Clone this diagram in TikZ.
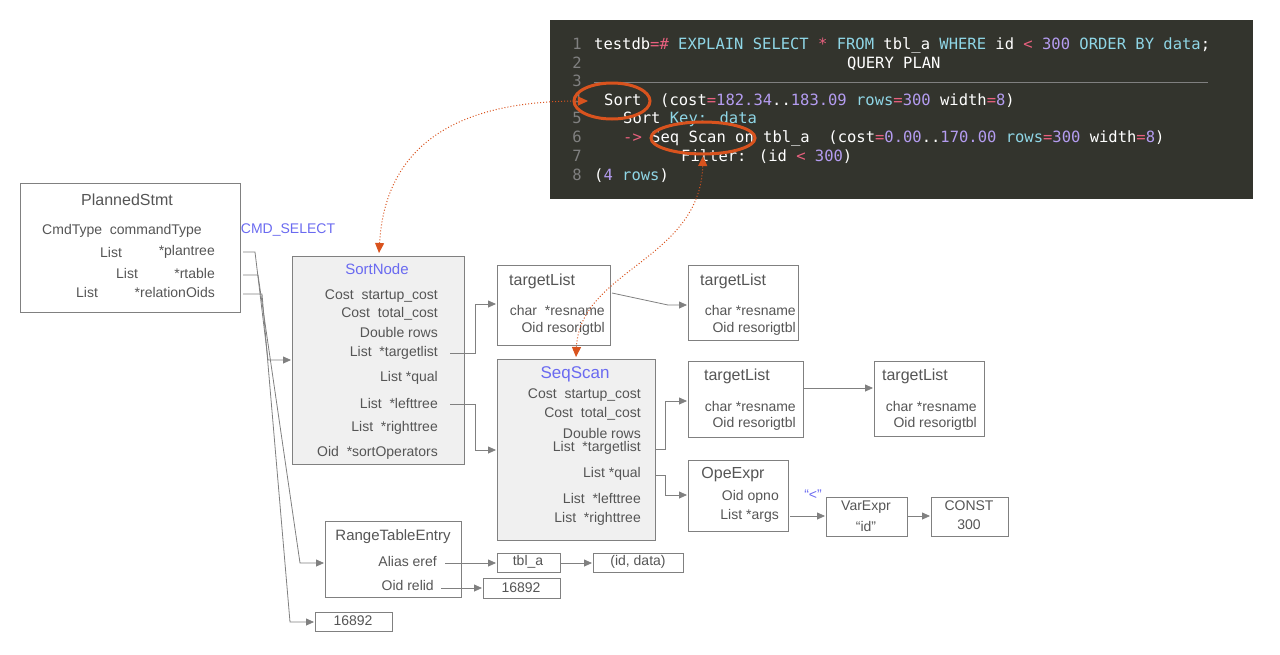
\documentclass[tikz,border=0pt]{standalone}
\usepackage{fontspec}
\setmainfont{Liberation Sans}
\newfontfamily\codefont{DejaVu Sans Mono}
\usetikzlibrary{arrows.meta}
\definecolor{gline}{HTML}{808080}
\definecolor{gtext}{HTML}{555555}
\definecolor{blu}{HTML}{6A6AF0}
\definecolor{term}{HTML}{33342D}
\definecolor{cy}{HTML}{8FD6E6}
\definecolor{pk}{HTML}{E8607E}
\definecolor{pu}{HTML}{B49CF0}
\definecolor{org}{HTML}{D9531E}
\newcommand{\C}[1]{\textcolor{cy}{#1}}
\newcommand{\Pk}[1]{\textcolor{pk}{#1}}
\newcommand{\Pu}[1]{\textcolor{pu}{#1}}
\begin{document}
\begin{tikzpicture}[x=1pt,y=-1pt,
  box/.style={draw=gline,line width=0.8pt},
  fbox/.style={draw=gline,line width=0.8pt,fill=black!6},
  t/.style={inner sep=0pt,text=gtext,font=\fontsize{14}{14}\selectfont},
  tt/.style={t,font=\fontsize{16}{16}\selectfont},
  bt/.style={tt,text=blu},
  code/.style={inner sep=0pt,anchor=west,text=white,font=\codefont\fontsize{15.5}{16}\selectfont,text height=11pt,text depth=3pt},
  num/.style={code,anchor=east,text=gray},
  con/.style={draw=gline,line width=0.8pt,-{Triangle[length=8pt,width=7pt,fill=gline]}},
  dot/.style={draw=org,line width=1pt,dotted,{Triangle[length=10pt,width=9pt,fill=org]}-{Triangle[length=10pt,width=9pt,fill=org]}},
  ell/.style={draw=org,line width=3pt}]
\useasboundingbox (0,0) rectangle (1280,654);
% terminal
\fill[term] (550,20) rectangle (1253,199);
\foreach \n/\y in {1/45,2/64,3/82,4/101,5/119,6/138,7/157,8/176}
  \node[num] (ln\n) at (582,\y) {\n};
\node[code] (c1) at (594,45) {testdb\Pk{=\#} \C{EXPLAIN SELECT} \Pk{*} \C{FROM} tbl\_a \C{WHERE} id \Pk{<} \Pu{300} \C{ORDER BY data};};
\node[code] (c2) at (847,64) {QUERY PLAN};
\draw[gray,line width=1pt] (594,82) -- (1208,82);
\node[code] (c4) at (604,101) {Sort\ \ (cost\Pk{=}\Pu{182.34}..\Pu{183.09} \C{rows}\Pk{=}\Pu{300} width\Pk{=}\Pu{8})};
\node[code] (c5) at (623,119) {Sort \C{Key: data}};
\node[code] (c6) at (623,138) {\Pk{->} Seq Scan on tbl\_a\ \ (cost\Pk{=}\Pu{0.00}..\Pu{170.00} \C{rows}\Pk{=}\Pu{300} width\Pk{=}\Pu{8})};
\node[code] (c7) at (681,157) {Filter: (id \Pk{<} \Pu{300})};
\node[code] (c8) at (594,176) {(\Pu{4} \C{rows})};
\draw[ell] (612,101) ellipse [x radius=38,y radius=18];
\draw[ell] (703,138) ellipse [x radius=52,y radius=16];
\coordinate (sortpt) at (588,101);
\coordinate (seqpt) at (703,156);
% PlannedStmt
\draw[box] (20,183) rectangle (240,312);
\node[tt] (ps) at (127,200) {PlannedStmt};
\node[t] (ps1) at (122,231) {CmdType\ \ commandType};
\node[t,anchor=west] (ps2a) at (100,252) {List};
\node[t,anchor=east] (ps2) at (215,252) {*plantree};
\node[t,anchor=west] (ps3a) at (116,273) {List};
\node[t,anchor=east] (ps3) at (215,273) {*rtable};
\node[t,anchor=west] (ps4a) at (76,292) {List};
\node[t,anchor=east] (ps4) at (215,292) {*relationOids};
\node[t,text=blu] (cmd) at (288,230) {CMD\_SELECT};
% SortNode
\draw[fbox] (292,256) rectangle (464,464);
\node[bt,font=\fontsize{15}{15}\selectfont] (sn) at (377,269) {SortNode};
\foreach \s/\y/\nm in {Cost\ \ startup\_cost/296/a,Cost\ \ total\_cost/314/b,Double\ rows/332/c,List\ \ *targetlist/353/d,List *qual/378/e,List\ \ *lefttree/403/f,List\ \ *righttree/428/g,Oid\ \ *sortOperators/453/h}
  \node[t,anchor=east] (sn\nm) at (438,\y) {\s};
% targetList 1,2
\draw[box] (497,265) rectangle (610,345);
\node[tt,anchor=west] (tl1) at (509,281) {targetList};
\node[t,anchor=east] (tl1a) at (605,310) {char\ \ *resname};
\node[t,anchor=east] (tl1b) at (605,329) {Oid resorigtbl};
\draw[box] (688,265) rectangle (798,340);
\node[tt,anchor=west] (tl2) at (700,281) {targetList};
\node[t,anchor=east] (tl2a) at (796,310) {char *resname};
\node[t,anchor=east] (tl2b) at (796,329) {Oid resorigtbl};
% SeqScan
\draw[fbox] (497,359) rectangle (655,540);
\node[bt,font=\fontsize{17}{17}\selectfont] (ss) at (575,374) {SeqScan};
\foreach \s/\y/\nm in {Cost\ \ startup\_cost/395/a,Cost\ \ total\_cost/414/b,Double rows/433/c,List\ \ *targetlist/448/d,List *qual/474/e,List\ \ *lefttree/498/f,List\ \ *righttree/519/g}
  \node[t,anchor=east] (ss\nm) at (641,\y) {\s};
% targetList 3,4
\draw[box] (688,361) rectangle (803,437);
\node[tt] (tl3) at (737,376) {targetList};
\node[t,anchor=east] (tl3a) at (796,406) {char *resname};
\node[t,anchor=east] (tl3b) at (796,424) {Oid resorigtbl};
\draw[box] (874,361) rectangle (984,436);
\node[tt] (tl4) at (915,376) {targetList};
\node[t,anchor=east] (tl4a) at (977,406) {char *resname};
\node[t,anchor=east] (tl4b) at (977,424) {Oid resorigtbl};
% OpeExpr
\draw[box] (688,460) rectangle (788,531);
\node[tt] (op) at (733,475) {OpeExpr};
\node[t,anchor=east] (opa) at (779,497) {Oid opno};
\node[t,anchor=east] (opb) at (779,516) {List *args};
\node[t,text=blu] (lt) at (813,495) {“<”};
\draw[box] (826,497) rectangle (907,536);
\node[t] (ve) at (866,507) {VarExpr};
\node[t] (vid) at (866,526) {“id”};
\draw[box] (931,497) rectangle (1008,536);
\node[t] (cst) at (969,506) {CONST};
\node[t] (c300) at (969,525) {300};
% RangeTableEntry
\draw[box] (325,521) rectangle (461,597);
\node[t,font=\fontsize{15}{15}\selectfont] (rte) at (393,537) {RangeTableEntry};
\node[t,anchor=east] (rtea) at (437,561) {Alias eref};
\node[t,anchor=east] (rteb) at (434,585) {Oid relid};
\draw[box] (497,553) rectangle (560,572); \node[t] (tbla) at (528,562) {tbl\_a};
\draw[box] (593,553) rectangle (683,572); \node[t] (iddata) at (638,562) {(id, data)};
\draw[box] (483,578) rectangle (560,598); \node[t] (n1) at (521,588) {16892};
\draw[box] (315,612) rectangle (392,631); \node[t] (n2) at (353,621) {16892};
% connectors
\draw[con] (243,252) -- (255,252) -- (268,360) -- (291,360);
\draw[con] (243,275) -- (258,275) -- (300,563) -- (324,563);
\draw[con] (243,294) -- (262,294) -- (290,622) -- (314,622);
\draw[con] (450,353) -- (475,353) -- (475,304) -- (496,304);
\draw[con] (450,404) -- (475,404) -- (475,450) -- (496,450);
\draw[con] (612,293) -- (668,305) -- (687,305);
\draw[con] (655,449) -- (665,449) -- (665,401) -- (687,401);
\draw[con] (655,475) -- (665,475) -- (665,495) -- (687,495);
\draw[con] (803,388) -- (873,388);
\draw[con] (790,516) -- (825,516);
\draw[con] (907,516) -- (930,516);
\draw[con] (445,563) -- (496,563);
\draw[con] (560,563) -- (592,563);
\draw[con] (441,588) -- (482,588);
% dotted
\draw[dot] (379,253) .. controls (385,150) and (450,101) .. (sortpt);
\draw[dot] (576,357) .. controls (580,270) and (700,260) .. (seqpt);
\end{tikzpicture}
\end{document}
